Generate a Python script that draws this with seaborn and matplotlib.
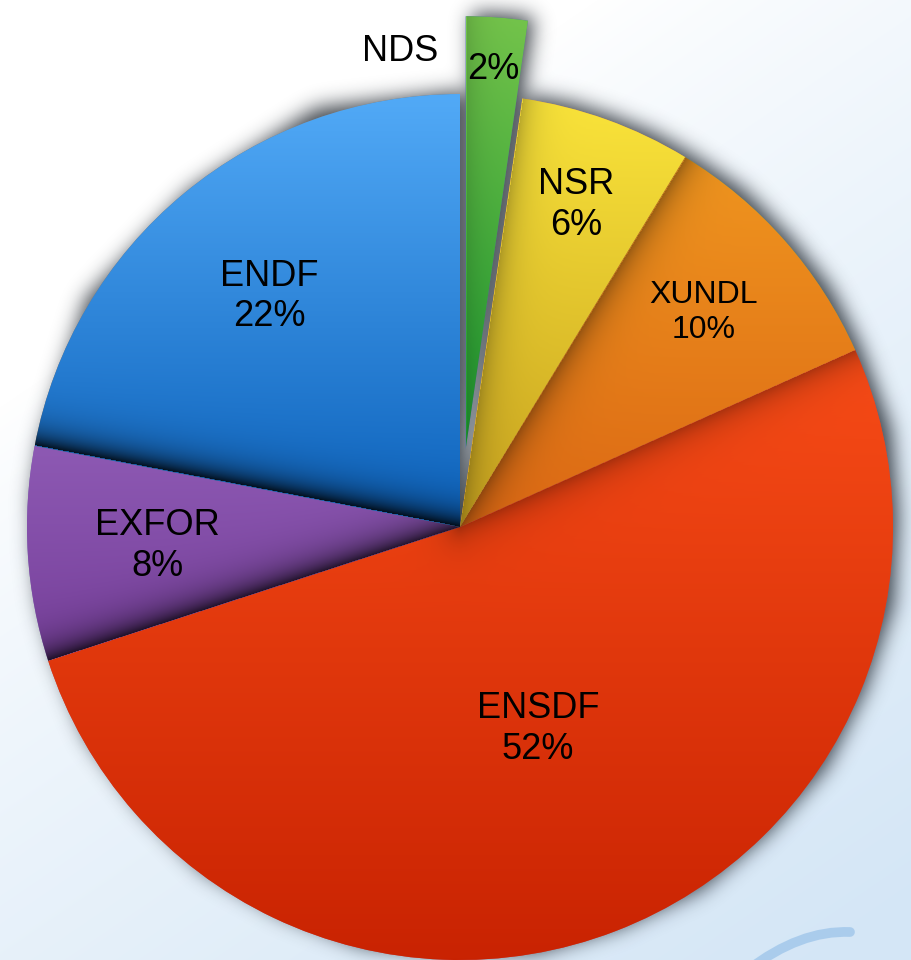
import numpy as np
import matplotlib

matplotlib.use("Agg")
import matplotlib.pyplot as plt
from matplotlib.colors import to_rgb
from matplotlib.path import Path as MplPath
from matplotlib.patches import PathPatch
import seaborn as sns

# slices, clockwise from 12 o'clock (labels show the rounded share)
sources = ["NDS", "NSR", "XUNDL", "ENSDF", "EXFOR", "ENDF"]
shares = [2.3, 6.4, 9.6, 51.7, 8.0, 22.0]
top_colors = ["#74c44b", "#fae43a", "#f0961f", "#f84c17", "#8d59b3", "#52aaf7"]
bottom_colors = ["#1b982f", "#c9a31f", "#dc6814", "#c92302", "#77409b", "#0c62bc"]
explode = [0.18, 0, 0, 0, 0, 0]
label_radius = [0.88, 0.79, 0.75, 0.50, 0.70, 0.69]
label_size = [26, 26, 23, 26, 26, 26]
edge_shadow = [0.15, 0.25, 0.35, 0.30, 0.75, 0.85]

W, H, DPI = 911, 960, 100
CX, CY, R = 460, 527, 433  # pie centre and radius in pixels


def blur(a, sigma):
    n = int(3 * sigma)
    k = np.exp(-0.5 * (np.arange(-n, n + 1) / sigma) ** 2)
    k /= k.sum()
    a = np.apply_along_axis(lambda r: np.convolve(r, k, mode="same"), 1, a)
    a = np.apply_along_axis(lambda c: np.convolve(c, k, mode="same"), 0, a)
    return a


sns.set_theme(style="white")
plt.rcParams["font.family"] = ["Liberation Sans", "DejaVu Sans"]

fig = plt.figure(figsize=(W / DPI, H / DPI), dpi=DPI)

# background wash
bg = fig.add_axes([0, 0, 1, 1], zorder=0)
bg.set_axis_off()
yy, xx = np.mgrid[0:H, 0:W]
t = np.clip(0.55 * xx / W + 0.85 * yy / H - 0.36, 0, 1) ** 0.8
wash = np.ones(3) * (1 - t[..., None]) + np.array(to_rgb("#d4e6f6")) * t[..., None]
bg.imshow(wash, extent=(0, W, H, 0), aspect="auto", interpolation="bilinear")
swoosh = MplPath(
    [(748, 970), (800, 930), (850, 932)],
    [MplPath.MOVETO, MplPath.CURVE3, MplPath.CURVE3],
)
bg.add_patch(PathPatch(swoosh, fill=False, lw=7, edgecolor="#a3c8eb",
                       alpha=0.85, capstyle="round"))
bg.set_xlim(0, W)
bg.set_ylim(H, 0)

ax = fig.add_axes([0, 0, 1, 1], zorder=1)
ax.patch.set_alpha(0)
wedges, _ = ax.pie(
    shares,
    explode=explode,
    startangle=90,
    counterclock=False,
    radius=1,
    wedgeprops=dict(linewidth=0, zorder=2),
)
xlim = (-CX / R, (W - CX) / R)
ylim = (-(H - CY) / R, CY / R)

# drop shadow under the whole pie
xs = np.linspace(xlim[0], xlim[1], W)
ys = np.linspace(ylim[0], ylim[1], H)
gx, gy = np.meshgrid(xs, ys)
pts = np.column_stack([gx.ravel() - 6 / R, gy.ravel() - 4 / R])
mask = np.zeros(len(pts))
for w in wedges:
    mask = np.maximum(mask, w.get_path().contains_points(pts))
mask = blur(mask.reshape(H, W), 10)
shadow = np.zeros((H, W, 4))
shadow[..., :3] = to_rgb("#1c232b")
shadow[..., 3] = 0.85 * mask
ax.imshow(shadow, extent=(*xlim, *ylim), origin="lower", aspect="auto", zorder=1)

# gradient fill with a soft shadow along each slice's leading edge
for w, top, bot, s in zip(wedges, top_colors, bottom_colors, edge_shadow):
    bb = w.get_path().get_extents()
    nx, ny = int(bb.width * R) + 2, int(bb.height * R) + 2
    X, Y = np.meshgrid(np.linspace(bb.x0, bb.x1, nx), np.linspace(bb.y0, bb.y1, ny))
    cmap = sns.blend_palette([bot, top], as_cmap=True)
    rgb = cmap((Y - bb.y0) / bb.height)[..., :3]
    cx, cy = w.center
    phi = np.degrees(np.arctan2(Y - cy, X - cx))
    dth = np.radians((w.theta2 - phi) % 360)
    r = np.hypot(X - cx, Y - cy)
    d = np.where(dth < np.pi / 2, r * np.sin(dth), r) * R
    shade = s * np.exp(-d / 15)
    rgb = rgb * (1 - shade[..., None])
    im = ax.imshow(rgb, extent=(bb.x0, bb.x1, bb.y0, bb.y1), origin="lower",
                   aspect="auto", interpolation="bilinear", zorder=3)
    im.set_clip_path(w)

# labels
for w, name, v, lr, fs in zip(wedges, sources, shares, label_radius, label_size):
    mid = np.radians((w.theta1 + w.theta2) / 2)
    cx, cy = w.center
    pct = f"{v:.0f}%"
    txt = pct if name == "NDS" else f"{name}\n{pct}"
    ax.text(cx + lr * np.cos(mid), cy + lr * np.sin(mid), txt, color="black",
            ha="center", va="center", fontsize=fs, linespacing=1.2, zorder=5)
    if name == "NDS":
        a = mid + np.radians(13.5)
        ax.text(cx + 0.93 * np.cos(a), cy + 0.93 * np.sin(a), name, color="black",
                ha="center", va="center", fontsize=fs, zorder=5)

ax.set_xlim(*xlim)
ax.set_ylim(*ylim)
ax.set_aspect("auto")
ax.set_axis_off()

fig.savefig("out.png", dpi=DPI)
